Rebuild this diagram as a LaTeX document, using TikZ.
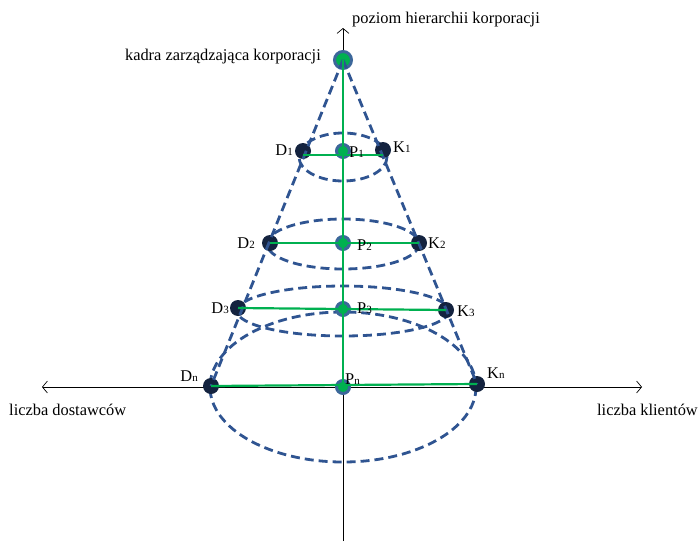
\documentclass[tikz,border=0pt]{standalone}
\usepackage{fontspec}
\setmainfont{Liberation Serif}
\usetikzlibrary{arrows.meta}
\definecolor{dashblue}{HTML}{2F5491}
\definecolor{dotnavy}{HTML}{14233F}
\definecolor{pblue}{HTML}{3C679A}
\definecolor{lgreen}{HTML}{00B050}
\newcommand{\sublbl}[2]{#1{\fontsize{11}{11}\selectfont #2}}
\begin{document}
\begin{tikzpicture}[x=1pt,y=-1pt,
  cone/.style={dashblue, line width=2.8pt, dash pattern=on 9pt off 5pt},
  gline/.style={lgreen, line width=2.2pt},
  axis/.style={black, line width=0.7pt},
  axtip/.style={-{Straight Barb[length=5pt,width=12pt,line width=0.7pt]}},
  ddot/.style={circle, fill=dotnavy, inner sep=0pt, minimum size=16pt},
  pdot/.style={circle, fill=lgreen, draw=pblue, line width=3pt, inner sep=0pt, minimum size=13pt},
  lab/.style={font=\fontsize{16.4}{18}\selectfont, inner sep=1pt},
]
\useasboundingbox (0,0) rectangle (699,541);
% axes
\coordinate (ybot) at (343,541);
\coordinate (ytop) at (343,28);
\coordinate (xl) at (42,387);
\coordinate (xr) at (642,387);
\coordinate (xm) at (343,387);
\draw[axis,axtip] (ybot) -- (ytop);
\draw[axis,axtip] (xm) -- (xl);
\draw[axis,axtip] (xm) -- (xr);
% ellipses
\draw[cone] (343,157) ellipse [x radius=44, y radius=24];
\draw[cone] (343,244) ellipse [x radius=76, y radius=25];
\draw[cone] (343,311) ellipse [x radius=106, y radius=25];
\draw[cone] (343,387) ellipse [x radius=133, y radius=75];
% points
\node[ddot] (D1) at (303,151) {};
\node[ddot] (K1) at (383,150) {};
\node[ddot] (D2) at (270,243) {};
\node[ddot] (K2) at (419,243) {};
\node[ddot] (D3) at (238,308) {};
\node[ddot] (K3) at (446,310) {};
\node[ddot] (Dn) at (211,386) {};
\node[ddot] (Kn) at (477,384) {};
\node[pdot, minimum size=17pt] (apex) at (343,60) {};
\node[pdot] (P1) at (343,151) {};
\node[pdot] (P2) at (343,243) {};
\node[pdot] (P3) at (343,309) {};
\node[pdot] (Pn) at (343,387) {};
% cone sides
\draw[cone] (apex.center) -- (Dn.center);
\draw[cone] (apex.center) -- (Kn.center);
% green lines
\draw[gline] (apex.center) -- (Pn.center);
\draw[gline] ([yshift=-4pt]D1.center) -- ([yshift=-5pt]K1.center);
\draw[gline] (D2.center) -- (K2.center);
\draw[gline] (D3.center) -- (K3.center);
\draw[gline] (Dn.center) -- (Kn.center);
% labels
\node[lab, anchor=east] (tkadra) at (322,57) {kadra zarządzająca korporacji};
\node[lab, anchor=west] (tpoziom) at (351,20) {poziom hierarchii korporacji};
\node[lab, anchor=west] (tdost) at (8,410) {liczba dostawców};
\node[lab, anchor=east] (tklient) at (699,410) {liczba klientów};
\node[lab, anchor=east] (lD1) at (294,150) {\sublbl{D}{1}};
\node[lab, anchor=west] (lK1) at (392,147) {\sublbl{K}{1}};
\node[lab, anchor=west] (lP1) at (348,152) {\sublbl{P}{1}};
\node[lab, anchor=east] (lD2) at (256,243) {\sublbl{D}{2}};
\node[lab, anchor=west] (lK2) at (427,243) {\sublbl{K}{2}};
\node[lab, anchor=west] (lP2) at (356,245) {\sublbl{P}{2}};
\node[lab, anchor=east] (lD3) at (230,308) {\sublbl{D}{3}};
\node[lab, anchor=west] (lK3) at (456,311) {\sublbl{K}{3}};
\node[lab, anchor=west] (lP3) at (356,308) {\sublbl{P}{3}};
\node[lab, anchor=east] (lDn) at (199,376) {\sublbl{D}{n}};
\node[lab, anchor=west] (lKn) at (486,373) {\sublbl{K}{n}};
\node[lab, anchor=west] (lPn) at (344,379) {\sublbl{P}{n}};
\end{tikzpicture}
\end{document}
